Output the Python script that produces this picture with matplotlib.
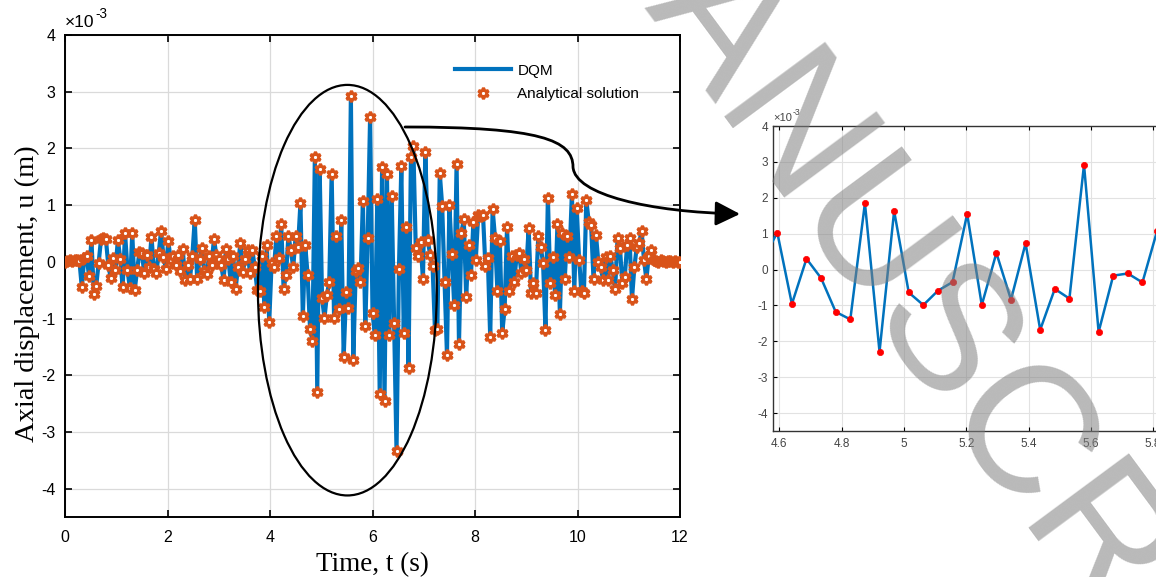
import numpy as np
import matplotlib
matplotlib.use("Agg")
import matplotlib.pyplot as plt
from matplotlib.patches import Ellipse, FancyArrowPatch
from matplotlib.path import Path
from matplotlib.ticker import FuncFormatter, MultipleLocator

# axial displacement, in units of 1e-3 m, one value every 12/256 s
u_milli = [
    0.00, 0.02, 0.03, 0.02, 0.03, 0.04, 0.02, -0.45, 0.06, 0.10,
    -0.25, 0.39, -0.56, -0.42, -0.02, 0.40, 0.42, 0.41, -0.05, -0.28,
    0.07, -0.15, 0.39, 0.05, -0.44, 0.50, -0.14, -0.46, 0.50, -0.50,
    -0.15, 0.18, 0.15, -0.20, 0.12, -0.10, 0.44, -0.12, -0.20, 0.15,
    0.55, 0.08, -0.12, 0.36, 0.03, 0.10, -0.05, 0.12, -0.17, 0.23,
    -0.32, -0.05, -0.30, 0.10, 0.74, -0.30, 0.05, 0.24, -0.17, -0.22,
    0.10, -0.05, 0.40, 0.12, 0.05, -0.05, -0.32, 0.22, 0.05, -0.36,
    0.10, -0.48, -0.10, 0.34, -0.18, 0.05, 0.20, -0.20, 0.20, -0.10,
    -0.49, -0.52, 0.10, -0.79, 0.30, -1.07, -0.02, -0.10, 0.45, 0.07,
    0.66, -0.48, -0.23, 0.46, 0.21, -0.10, 0.45, 0.26, 1.03, -0.96,
    0.30, -0.24, -1.18, -1.39, 1.85, -2.29, 1.63, -0.64, -0.99, -0.59,
    -0.35, 1.55, -0.99, 0.46, -0.84, 0.73, -1.68, -0.54, -0.81, 2.92,
    -1.74, -0.17, -0.11, -0.36, 1.07, -1.14, 0.42, 2.55, -0.90, -1.29,
    1.10, -2.33, 1.68, -2.46, 1.55, -1.29, 1.16, -1.08, -3.34, -0.13,
    1.69, -1.26, 0.62, -1.87, 1.85, 2.04, 0.25, 0.10, 0.35, -0.31,
    1.94, 0.38, 0.12, -0.07, -1.20, -1.18, 1.56, 0.99, -0.36, -1.64,
    1.00, 0.14, -0.76, 1.73, -1.45, 0.51, 0.75, -0.62, 0.30, -0.23,
    0.71, 0.04, 0.83, 0.80, 0.83, -0.08, 0.06, -1.33, 0.93, 0.42,
    -0.52, 0.36, -1.25, -0.83, 0.61, -0.52, 0.10, -0.35, 0.12, 0.15,
    -0.20, 0.05, -0.14, 0.59, -0.55, -0.38, -0.55, 0.45, 0.27, -0.02,
    -1.20, 1.13, -0.38, 0.09, -0.58, 0.67, -0.92, 0.50, -0.31, 0.45,
    0.09, 1.20, -0.52, 0.95, 0.04, -0.52, -0.55, 1.09, 0.71, 0.65,
    -0.31, 0.48, 0.00, -0.10, -0.32, 0.09, -0.32, 0.10, -0.15, -0.48,
    0.42, 0.24, -0.38, -0.26, 0.29, 0.42, -0.66, -0.10, 0.27, 0.33,
    0.55, 0.04, -0.31, 0.10, 0.21, 0.04, 0.02, 0.00, 0.03, 0.01,
    0.00, 0.02, 0.01, 0.00, 0.01, 0.00, 0.00,
]
dt = 12 / 256
t = np.arange(len(u_milli)) * dt
u = np.array(u_milli) * 1e-3

x_ticks = [0, 2, 4, 6, 8, 10, 12]
inset_ticks = [4.6, 4.8, 5.0, 5.2, 5.4, 5.6, 5.8]

blue = "#0072BD"
orange = "#D95319"

plt.rcParams["font.family"] = ["Liberation Sans", "DejaVu Sans"]
plt.rcParams["axes.unicode_minus"] = False

W, H = 1156, 577
fig = plt.figure(figsize=(W / 100, H / 100), dpi=100)


def fpx(x, y):
    # figure pixel -> figure fraction
    return (x / W, 1 - y / H)


milli = FuncFormatter(lambda v, p: f"{v * 1e3:g}")


def add_exponent(a, size, color):
    # MATLAB style "x10^-3" above the y axis
    a.text(0.0, 1.01, "\u00d710", transform=a.transAxes, fontsize=size, color=color,
           ha="left", va="bottom")
    a.annotate("-3", xy=(0.0, 1.01), xycoords="axes fraction",
               xytext=(size * 1.75, size * 0.55), textcoords="offset points",
               fontsize=size * 0.78, color=color, ha="left", va="bottom")


# main plot
ax = fig.add_axes([65 / W, 1 - 517 / H, (680 - 65) / W, (517 - 35) / H])
ax.plot(t, u, color=blue, lw=3, label="DQM", zorder=3)
ax.plot(t, u, ls="none", marker=(6, 1, 0), ms=8, mfc="white", mec=orange,
        mew=2.2, label="Analytical solution", zorder=4)
ax.set_xlim(0, 12)
ax.set_ylim(-4.5e-3, 4e-3)
ax.set_xticks(x_ticks)
ax.yaxis.set_major_locator(MultipleLocator(1e-3))
ax.yaxis.set_major_formatter(milli)
ax.grid(True, color="#dadada", lw=0.9, zorder=0)
ax.tick_params(direction="in", top=True, right=True, length=5, width=1.2,
               labelsize=11.5, colors="black")
ax.tick_params(axis="x", pad=9)
ax.tick_params(axis="y", pad=7)
for s in ax.spines.values():
    s.set_linewidth(1.4)
ax.set_xlabel("Time, t (s)", family="Liberation Serif", fontsize=19.5)
ax.set_ylabel("Axial displacement, u (m)", family="Liberation Serif", fontsize=20.5)
ax.xaxis.set_label_coords(0.5, -0.072)
ax.yaxis.set_label_coords(-0.041, 0.463)
add_exponent(ax, 12.5, "black")

ax.legend(loc="upper left", bbox_to_anchor=fpx(441, 50), bbox_transform=fig.transFigure,
          frameon=False, fontsize=11, handlelength=3.7, handletextpad=0.4, labelspacing=0.62)

# ellipse around the strong part of the response
ax.add_patch(Ellipse((5.51, -0.5e-3), 3.49, 7.24e-3, fill=False, ec="black", lw=1.6, zorder=6))

# zoomed inset
axi = fig.add_axes([773 / W, 1 - 431 / H, (1160 - 773) / W, (431 - 126) / H])
axi.plot(t, u, color=blue, lw=1.8, zorder=3)
axi.plot(t, u, ls="none", marker="o", ms=4.5, mfc="red", mec="red", mew=0.5, zorder=4)
axi.set_xlim(4.58, 5.822)
axi.set_ylim(-4.5e-3, 4e-3)
axi.set_xticks(inset_ticks)
axi.set_xticklabels(["4.6", "4.8", "5", "5.2", "5.4", "5.6", "5.8"])
axi.yaxis.set_major_locator(MultipleLocator(1e-3))
axi.yaxis.set_major_formatter(milli)
axi.grid(True, color="#e2e2e2", lw=0.8, zorder=0)
axi.tick_params(direction="in", top=True, right=True, length=3, width=0.8,
                labelsize=8.5, labelcolor="#444444")
axi.tick_params(axis="x", pad=5)
for s in axi.spines.values():
    s.set_linewidth(1.0)
    s.set_color("#333333")
add_exponent(axi, 8, "#444444")

# connector from ellipse to inset
verts = [fpx(405, 127), fpx(540, 127), fpx(573, 140), fpx(573, 167),
         fpx(575, 195), fpx(650, 212), fpx(740, 214)]
codes = [Path.MOVETO] + [Path.CURVE4] * 6
arrow = FancyArrowPatch(path=Path(verts, codes), arrowstyle="-|>,head_length=0.6,head_width=0.3",
                        mutation_scale=25, lw=2, color="black", transform=fig.transFigure)
fig.add_artist(arrow)

# watermark
fig.text(548 / W, 1 + 101 / H, "MANUSCRIPT", fontsize=130, color="gray", alpha=0.55,
         rotation=-53.5, rotation_mode="anchor", ha="left", va="baseline",
         family="Liberation Sans", zorder=20)

fig.savefig("out.png", dpi=100)
